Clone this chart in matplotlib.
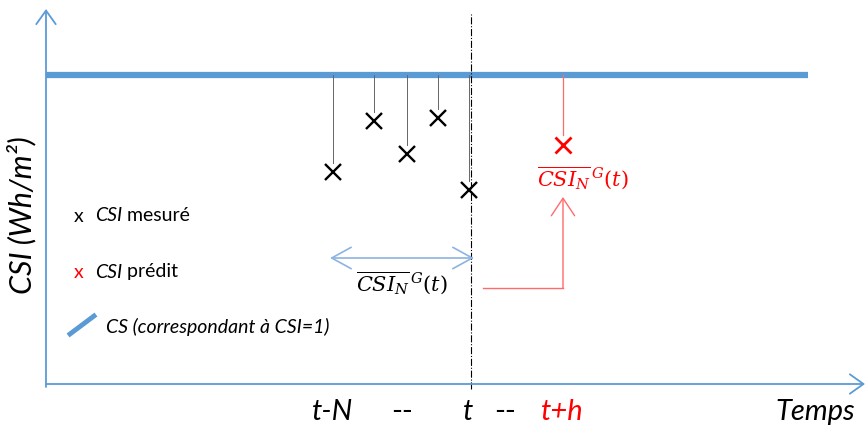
import matplotlib
matplotlib.use("Agg")
import matplotlib.pyplot as plt

# Schematic data (x: time offset from axis origin, y: CSI level)
cs_level = 309
cs_end = 762
measured_t = [287, 328, 361, 392, 423]
measured_csi = [212, 263, 230, 266, 194]
t_now = 425
pred_t = 517
pred_csi = 239
window_start = 284
window_end = 428
window_level = 126

tick_labels = ["t-N", "--", "t", "--", "t+h"]
tick_pos = [287, 356, 422, 459, 516]
tick_colors = ["black", "black", "black", "black", "red"]

BLUE = "#5B9BD5"
LIGHT_BLUE = "#8DB3E2"
RED = "#FF0000"
LIGHT_RED = "#FF6B6B"

plt.rcParams["font.family"] = ["Lato", "DejaVu Sans"]
plt.rcParams["mathtext.fontset"] = "dejavuserif"

fig = plt.figure(figsize=(8.67, 4.27), dpi=100)
ax = fig.add_axes([0, 0, 1, 1])
ax.set_xlim(-46, 821)
ax.set_ylim(-42, 385)
ax.axis("off")

# axes with open arrowheads
arrow_kw = dict(arrowstyle="->,head_length=0.7,head_width=0.5", color=BLUE,
                lw=1.3, shrinkA=0, shrinkB=0, mutation_scale=14)
ax.annotate("", xy=(0, 375), xytext=(0, -3), arrowprops=arrow_kw)
ax.annotate("", xy=(819, 0), xytext=(0, 0), arrowprops=arrow_kw)

# clear sky line
ax.plot([0, cs_end], [cs_level, cs_level], color=BLUE, lw=4.5, solid_capstyle="butt")

# measured points with stems
for t, c in zip(measured_t, measured_csi):
    ax.plot([t, t], [cs_level, c + 9], color="#666666", lw=0.7)
ax.plot(measured_t, measured_csi, "x", color="black", ms=11, mew=1.7)

# current time
ax.plot([t_now, t_now], [-5, 370], color="black", lw=0.8, ls="-.")

# predicted point
ax.plot([pred_t, pred_t], [cs_level, pred_csi + 10], color=LIGHT_RED, lw=0.9)
ax.plot([pred_t], [pred_csi], "x", color=RED, ms=11, mew=2)
ax.text(pred_t + 20, 207, r"$\overline{CSI_N}^{\,G}(t)$", color=RED, fontsize=15,
        ha="center", va="center")

# window double arrow
ax.annotate("", xy=(window_start, window_level), xytext=(window_end, window_level),
            arrowprops=dict(arrowstyle="<->,head_length=1.0,head_width=0.55",
                            color=LIGHT_BLUE, lw=1.2, shrinkA=0, shrinkB=0,
                            mutation_scale=14))
ax.text((window_start + window_end) / 2, 102, r"$\overline{CSI_N}^{\,G}(t)$",
        color="black", fontsize=15, ha="center", va="center")

# red arrow from window to prediction
ax.plot([437, pred_t], [96, 96], color=LIGHT_RED, lw=1)
ax.annotate("", xy=(pred_t, 187), xytext=(pred_t, 96),
            arrowprops=dict(arrowstyle="->,head_length=0.9,head_width=0.6",
                            color=LIGHT_RED, lw=1, shrinkA=0, shrinkB=0,
                            mutation_scale=14))

# legend
ax.text(33, 168, "x", color="black", fontsize=14, ha="center", va="center")
t1 = ax.text(49, 169, "CSI", color="black", fontsize=14, style="italic", va="center")
ax.annotate(" mesuré", xy=(1, 0.5), xycoords=t1, fontsize=14, va="center")
ax.text(33, 112, "x", color=RED, fontsize=14, ha="center", va="center")
t2 = ax.text(49, 113, "CSI", color="black", fontsize=14, style="italic", va="center")
ax.annotate(" prédit", xy=(1, 0.5), xycoords=t2, fontsize=14, va="center")
ax.plot([24, 48], [50, 68], color=BLUE, lw=3.5)
ax.text(60, 58, "CS (correspondant à CSI=1)", color="black", fontsize=14,
        style="italic", va="center")

# axis labels
ax.text(-24, 170, "CSI (Wh/m²)", rotation=90, fontsize=22, style="italic",
        ha="center", va="center")
ax.text(769, -27, "Temps", fontsize=21, style="italic", ha="center", va="center")
for lab, x, col in zip(tick_labels, tick_pos, tick_colors):
    ax.text(x, -27, lab, fontsize=21, style="italic" if lab != "--" else "normal",
            color=col, ha="center", va="center")

fig.savefig("out.png", dpi=100)
